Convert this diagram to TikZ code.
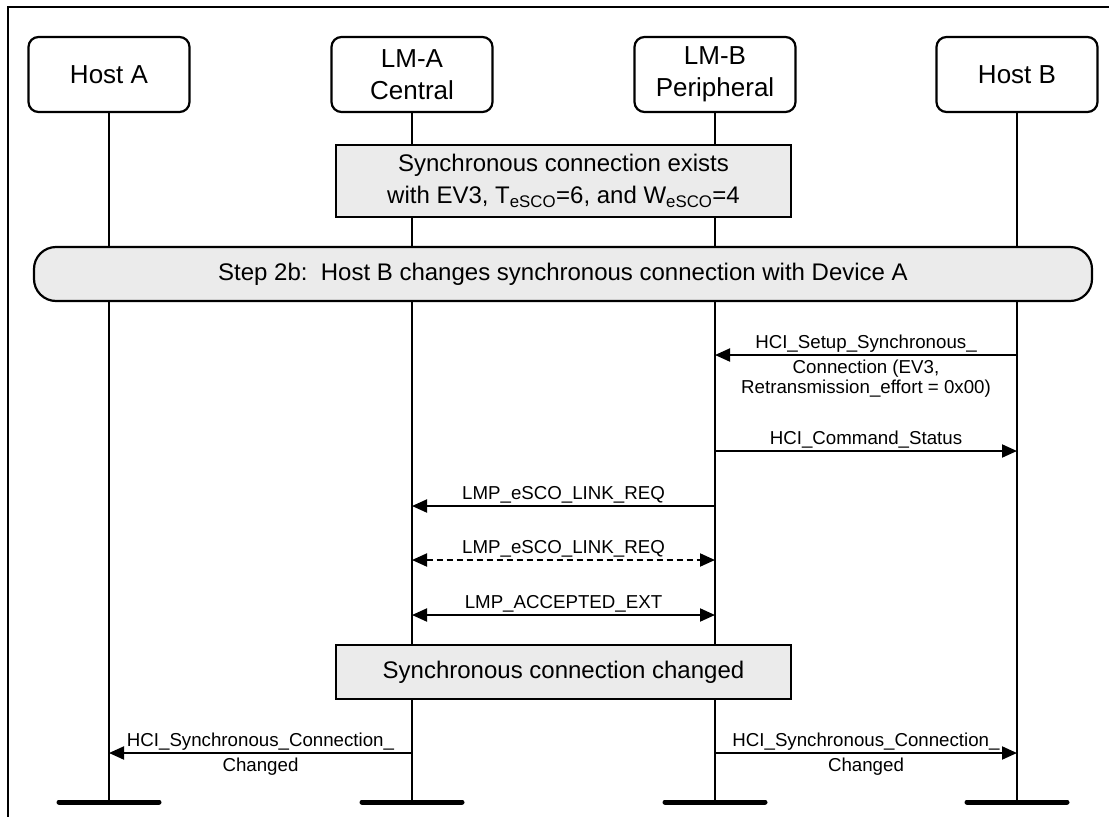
\documentclass[tikz,border=0pt]{standalone}
\usepackage{fontspec}
\setmainfont{Liberation Sans}
\usetikzlibrary{arrows.meta}
\definecolor{boxgray}{HTML}{EBEBEB}

\begin{document}
\begin{tikzpicture}[x=1pt, y=-1pt,
    entity/.style={draw, line width=2.2pt, rounded corners=10pt, minimum width=161pt, minimum height=75pt,
        align=center, inner sep=0pt, font=\fontsize{26}{32}\selectfont},
    state/.style={draw, line width=2.2pt, fill=boxgray, align=center, inner sep=0pt,
        font=\fontsize{24}{32}\selectfont},
    life/.style={line width=2pt},
    bar/.style={line width=5pt, line cap=round},
    msg/.style={line width=2pt, -{Triangle[length=15pt,width=13pt]}},
    msgboth/.style={line width=2pt, {Triangle[length=15pt,width=13pt]}-{Triangle[length=15pt,width=13pt]}},
    lbl/.style={inner sep=0pt, anchor=base, align=center, font=\fontsize{18.7}{20.5}\selectfont}]

    \useasboundingbox (0,0) rectangle (1109,817);

    % Frame
    \draw[line width=2.5pt] (8,840) -- (8,7) -- (1130,7);

    % Entities
    \node[entity] (hostA) at (109,74.5) {Host A};
    \node[entity] (lmA) at (412,74.5) {LM-A\\Central};
    \node[entity] (lmB) at (715,74.5) {LM-B\\Peripheral};
    \node[entity] (hostB) at (1017,74.5) {Host B};

    % Lifelines
    \coordinate (hostA-end) at (hostA |- 0,802);
    \coordinate (lmA-end) at (lmA |- 0,802);
    \coordinate (lmB-end) at (lmB |- 0,802);
    \coordinate (hostB-end) at (hostB |- 0,802);
    \draw[life] (hostA.south) -- (hostA-end);
    \draw[life] (lmA.south) -- (lmA-end);
    \draw[life] (lmB.south) -- (lmB-end);
    \draw[life] (hostB.south) -- (hostB-end);
    \draw[bar] ([xshift=-50pt]hostA-end) -- ([xshift=50pt]hostA-end);
    \draw[bar] ([xshift=-50pt]lmA-end) -- ([xshift=50pt]lmA-end);
    \draw[bar] ([xshift=-50pt]lmB-end) -- ([xshift=50pt]lmB-end);
    \draw[bar] ([xshift=-50pt]hostB-end) -- ([xshift=50pt]hostB-end);

    % Existing connection
    \node[state, minimum width=455pt, minimum height=72pt] (exists) at (563.5,181)
        {Synchronous connection exists\\with EV3, T\textsubscript{eSCO}=6, and W\textsubscript{eSCO}=4};

    % Step 2b
    \node[state, rounded corners=22pt, minimum width=1058pt, minimum height=54pt] (step) at (563,274)
        {Step 2b:\ \ Host B changes synchronous connection with Device A};

    % Messages
    \coordinate (m1) at (0,355);
    \draw[msg] (hostB |- m1) -- (lmB |- m1)
        node[lbl, midway, yshift=6.5pt] (setupA) {HCI\_Setup\_Synchronous\_}
        node[lbl, midway, yshift=-38.5pt] (setupB) {Connection (EV3,\\Retransmission\_effort = 0x00)};

    \coordinate (m2) at (0,451);
    \draw[msg] (lmB |- m2) -- (hostB |- m2)
        node[lbl, midway, yshift=6.5pt] (status) {HCI\_Command\_Status};

    \coordinate (m3) at (0,506);
    \draw[msg] (lmB |- m3) -- (lmA |- m3)
        node[lbl, midway, yshift=6.5pt] (linkreq) {LMP\_eSCO\_LINK\_REQ};

    \coordinate (m4) at (0,560);
    \draw[msgboth, dash pattern=on 6pt off 4pt] (lmA |- m4) -- (lmB |- m4)
        node[lbl, midway, yshift=6.5pt] (linkreq2) {LMP\_eSCO\_LINK\_REQ};

    \coordinate (m5) at (0,615);
    \draw[msgboth] (lmA |- m5) -- (lmB |- m5)
        node[lbl, midway, yshift=6.5pt] (accepted) {LMP\_ACCEPTED\_EXT};

    % Changed connection
    \node[state, minimum width=455pt, minimum height=54pt] (changed) at (563.5,672)
        {Synchronous connection changed};

    \coordinate (m6) at (0,753);
    \draw[msg] (lmA |- m6) -- (hostA |- m6)
        node[lbl, midway, yshift=6.5pt] (chgA1) {HCI\_Synchronous\_Connection\_}
        node[lbl, midway, yshift=-18pt] (chgA2) {Changed};
    \draw[msg] (lmB |- m6) -- (hostB |- m6)
        node[lbl, midway, yshift=6.5pt] (chgB1) {HCI\_Synchronous\_Connection\_}
        node[lbl, midway, yshift=-18pt] (chgB2) {Changed};
\end{tikzpicture}
\end{document}
